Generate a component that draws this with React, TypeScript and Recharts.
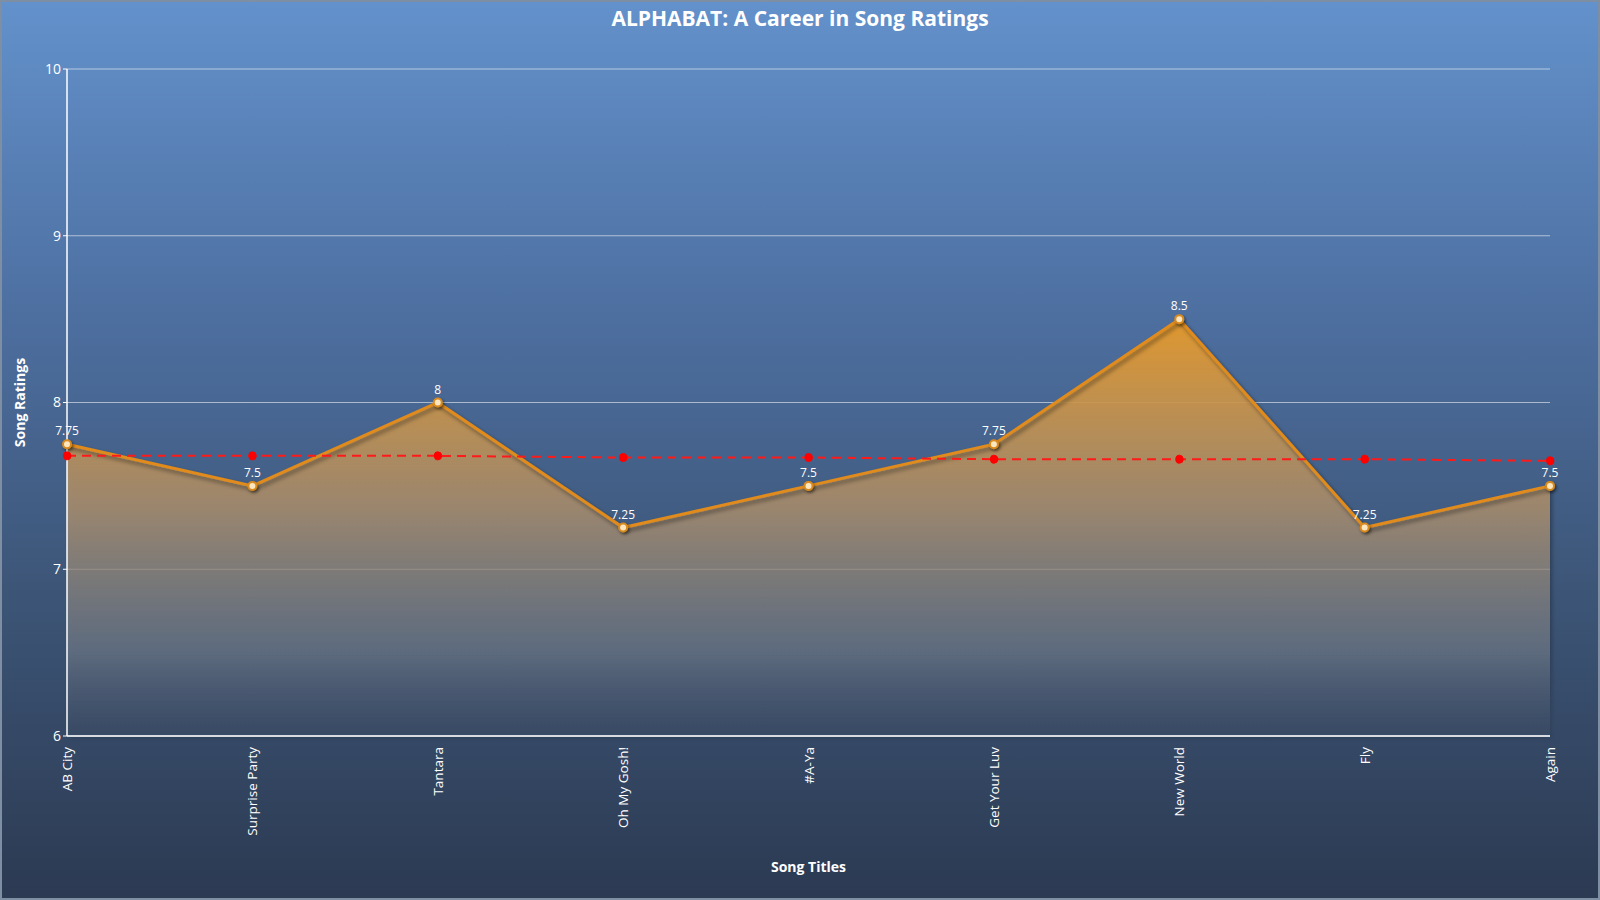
import React from 'react';
import { ComposedChart, Area, Line, XAxis, YAxis, CartesianGrid, LabelList, Label } from 'recharts';

const songs = ['AB City', 'Surprise Party', 'Tantara', 'Oh My Gosh!', '#A-Ya', 'Get Your Luv', 'New World', 'Fly', 'Again'];
const ratings = [7.75, 7.5, 8, 7.25, 7.5, 7.75, 8.5, 7.25, 7.5];
const trend = [7.68, 7.68, 7.68, 7.67, 7.67, 7.66, 7.66, 7.66, 7.65];
const yTicks = [6, 7, 8, 9, 10];

const data = songs.map((song, i) => ({ song, rating: ratings[i], trend: trend[i] }));

const font = '"Open Sans", "Noto Sans", sans-serif';

const RotatedTick = (props: any) => {
  const { x, y, payload } = props;
  return (
    <g transform={`translate(${x},${y})`}>
      <text x={-3} y={0} dy={5} textAnchor="end" transform="rotate(-90)" fill="#ffffff" fontSize={13.5} fontFamily={font}>
        {payload.value}
      </text>
    </g>
  );
};

const RatingDot = (props: any) => {
  const { cx, cy } = props;
  if (cx == null || cy == null) return null;
  return (
    <g filter="url(#dotShadow)">
      <circle cx={cx} cy={cy} r={4} fill="#fbe6c0" stroke="#d98a1f" strokeWidth={2} />
    </g>
  );
};

// y-axis title, drawn at the left edge of the chart, centred on the plot height
const YTitle = (props: any) => {
  const { viewBox } = props;
  const cy = viewBox.y + viewBox.height / 2;
  return (
    <text
      x={17}
      y={cy}
      transform={`rotate(-90, 17, ${cy})`}
      textAnchor="middle"
      dominantBaseline="central"
      fill="#ffffff"
      fontSize={14}
      fontWeight={700}
      fontFamily={font}
    >
      Song Ratings
    </text>
  );
};

export default function App() {
  return (
    <div
      style={{
        position: 'absolute',
        left: 0,
        top: 0,
        width: 1600,
        height: 900,
        boxSizing: 'border-box',
        border: '2px solid #7f8fa3',
        background: 'linear-gradient(to bottom, #6391cb 0%, #4d6fa0 35%, #3d5678 65%, #2c3a52 100%)',
        fontFamily: font,
      }}
    >
      <div
        style={{
          position: 'absolute',
          top: 2,
          left: 0,
          width: '100%',
          textAlign: 'center',
          color: '#ffffff',
          fontSize: 21,
          fontWeight: 700,
        }}
      >
        ALPHABAT: A Career in Song Ratings
      </div>
      <ComposedChart
        width={1596}
        height={896}
        data={data}
        margin={{ top: 67, right: 48, left: 13, bottom: 22 }}
        style={{ position: 'absolute', left: 0, top: 0 }}
      >
        <defs>
          <linearGradient id="areaFill" x1="0" y1="0" x2="0" y2="1">
            <stop offset="0%" stopColor="#e69a2c" stopOpacity={0.95} />
            <stop offset="45%" stopColor="#b5956f" stopOpacity={0.75} />
            <stop offset="80%" stopColor="#7f8894" stopOpacity={0.5} />
            <stop offset="100%" stopColor="#4d5a70" stopOpacity={0.2} />
          </linearGradient>
          <filter id="lineShadow" x="-5%" y="-20%" width="110%" height="140%">
            <feDropShadow dx="2" dy="3" stdDeviation="2" floodColor="#000000" floodOpacity="0.45" />
          </filter>
          <filter id="dotShadow" x="-100%" y="-100%" width="300%" height="300%">
            <feDropShadow dx="1.5" dy="2" stdDeviation="1.5" floodColor="#000000" floodOpacity="0.5" />
          </filter>
        </defs>
        <CartesianGrid vertical={false} stroke="#ffffff" strokeOpacity={0.55} strokeWidth={1} />
        <XAxis
          dataKey="song"
          scale="point"
          height={140}
          interval={0}
          tick={<RotatedTick />}
          tickLine={false}
          axisLine={{ stroke: '#ffffff', strokeWidth: 1.5 }}
        >
          <Label value="Song Titles" position="insideBottom" offset={4} fill="#ffffff" fontSize={14} fontWeight={700} fontFamily={font} />
        </XAxis>
        <YAxis
          domain={[6, 10]}
          ticks={yTicks}
          width={52}
          tick={{ fill: '#ffffff', fontSize: 14, fontFamily: font }}
          tickLine={{ stroke: '#ffffff' }}
          tickSize={4}
          axisLine={{ stroke: '#ffffff', strokeWidth: 1.5 }}
        >
          <Label content={<YTitle />} />
        </YAxis>
        <Area
          type="linear"
          dataKey="rating"
          stroke="#e08b1c"
          strokeWidth={3}
          fill="url(#areaFill)"
          fillOpacity={1}
          baseValue={6}
          filter="url(#lineShadow)"
          dot={<RatingDot />}
          activeDot={false}
          isAnimationActive={false}
        >
          <LabelList dataKey="rating" position="top" offset={9} fill="#ffffff" fontSize={12} fontFamily={font} />
        </Area>
        <Line
          type="linear"
          dataKey="trend"
          stroke="#ff1a1a"
          strokeWidth={2}
          strokeDasharray="9 6"
          dot={{ r: 4, fill: '#ff0000', stroke: '#ff0000', strokeWidth: 1 }}
          activeDot={false}
          isAnimationActive={false}
        />
      </ComposedChart>
    </div>
  );
}
